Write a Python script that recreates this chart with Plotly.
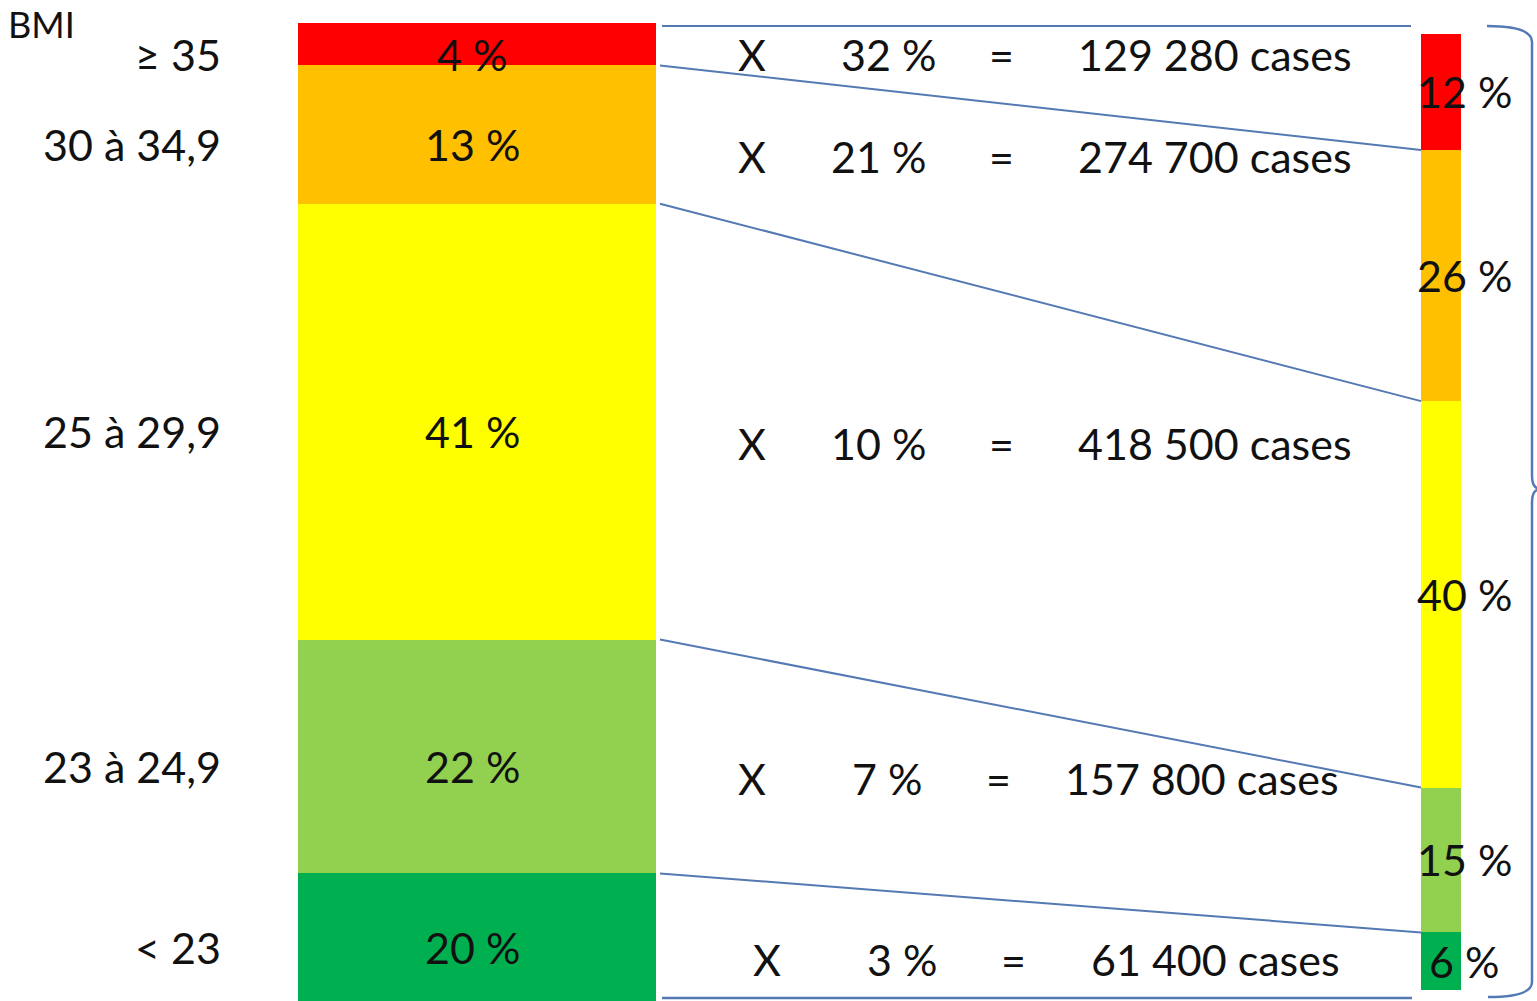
import plotly.graph_objects as go

# ---- data -------------------------------------------------------------
bmi_classes = ["≥ 35", "30 à 34,9", "25 à 29,9", "23 à 24,9", "< 23"]
population_share = [4, 13, 41, 22, 20]          # % of population per BMI class
risk_pct = [32, 21, 10, 7, 3]                   # % risk applied to each class
cases = [129280, 274700, 418500, 157800, 61400]  # resulting number of cases
cases_share = [12, 26, 40, 15, 6]               # % of all cases per BMI class

colors = ["#FF0000", "#FFC000", "#FFFF00", "#92D050", "#00B050"]

# ---- layout constants (page is 1537 x 1001 px) -------------------------
W, H = 1537, 1001
LEFT_X0, LEFT_X1 = 298, 656
RIGHT_X0, RIGHT_X1 = 1421, 1461
LEFT_RANGE = [92.0, -2.16]     # left bar axis (%), reversed: 0 at top
RIGHT_RANGE = [100.1, -3.52]   # right bar axis (%), reversed
LINE_COLOR = "#5479B3"
FONT = "Lato"
TEXT_COLOR = "#111111"
FS = 43


def cum_starts(vals):
    out, s = [], 0
    for v in vals:
        out.append(s)
        s += v
    return out


def to_paper(v, rng):
    return (v - rng[0]) / (rng[1] - rng[0])


def visible_center(a, b, rng):
    lo, hi = max(a, rng[1]), min(b, rng[0])
    return (lo + hi) / 2


left_base = cum_starts(population_share)
right_base = cum_starts(cases_share)

fig = go.Figure()

fig.add_trace(go.Bar(
    x=[(LEFT_X0 + LEFT_X1) / 2] * len(population_share),
    y=population_share, base=left_base, width=LEFT_X1 - LEFT_X0,
    marker=dict(color=colors, line=dict(width=0)),
    yaxis="y", hoverinfo="skip", showlegend=False,
))
fig.add_trace(go.Bar(
    x=[(RIGHT_X0 + RIGHT_X1) / 2] * len(cases_share),
    y=cases_share, base=right_base, width=RIGHT_X1 - RIGHT_X0,
    marker=dict(color=colors, line=dict(width=0)),
    yaxis="y2", hoverinfo="skip", showlegend=False,
))

shapes = []
# connectors between matching class boundaries of the two bars
for i in range(1, len(population_share)):
    yl = to_paper(left_base[i], LEFT_RANGE)
    yr = to_paper(right_base[i], RIGHT_RANGE)
    shapes.append(dict(type="line", xref="x", yref="paper",
                       x0=LEFT_X1 + 4, y0=yl, x1=RIGHT_X0, y1=yr,
                       line=dict(color=LINE_COLOR, width=2)))

# top and bottom rules plus the curly braces (pixel axis y3)
shapes.append(dict(type="line", xref="x", yref="y3", x0=662, y0=26, x1=1411, y1=26,
                   line=dict(color=LINE_COLOR, width=2)))
shapes.append(dict(type="line", xref="x", yref="y3", x0=662, y0=998, x1=1412, y1=998,
                   line=dict(color=LINE_COLOR, width=2.5)))
shapes.append(dict(type="path", xref="x", yref="y3",
                   path="M 1487 26 Q 1532 26 1532 42 L 1532 476 Q 1532 489 1541 489 "
                        "Q 1532 489 1532 502 L 1532 982 Q 1532 997 1488 997",
                   line=dict(color=LINE_COLOR, width=2.5)))

ann = []


def txt(x, y, s, size=FS, yref="y", xanchor="center", yanchor="middle", yshift=0):
    ann.append(dict(x=x, y=y, xref="x", yref=yref, text=s, showarrow=False,
                    xanchor=xanchor, yanchor=yanchor, yshift=yshift, borderpad=0,
                    font=dict(family=FONT, size=size, color=TEXT_COLOR)))


ann_y = []
for i, v in enumerate(population_share):
    ann_y.append(visible_center(left_base[i], left_base[i] + v, LEFT_RANGE))

# row columns for "X  pct  =  cases"
X_COL = [752, 752, 752, 752, 767]
PCT_COL = [888, 878, 878, 887, 902]
EQ_COL = [1001, 1001, 1001, 998, 1013]
CASES_COL = [1215, 1215, 1215, 1202, 1215]
ROW_SHIFT = [-10, -22, -22, -22, -22]

for i, lab in enumerate(bmi_classes):
    y = ann_y[i]
    txt(222, y, lab, xanchor="right", yshift=-10)
    txt((LEFT_X0 + LEFT_X1) / 2 - 5, y, f"{population_share[i]} %", yshift=-10)
    txt(X_COL[i], y, "X", yshift=ROW_SHIFT[i])
    txt(PCT_COL[i], y, f"{risk_pct[i]} %", yshift=ROW_SHIFT[i])
    txt(EQ_COL[i], y, "=", yshift=ROW_SHIFT[i])
    txt(CASES_COL[i], y, f"{cases[i]:,}".replace(",", " ") + " cases", yshift=ROW_SHIFT[i])

for i, v in enumerate(cases_share):
    yc = visible_center(right_base[i], right_base[i] + v, RIGHT_RANGE)
    txt(1464, yc, f"{v} %", yref="y2")

txt(7, 1, "BMI", size=36, yref="y3", xanchor="left", yanchor="top")

fig.update_layout(
    width=W, height=H,
    margin=dict(l=0, r=0, t=0, b=0),
    paper_bgcolor="white", plot_bgcolor="white",
    barmode="overlay", bargap=0,
    xaxis=dict(range=[0, W], visible=False, fixedrange=True),
    yaxis=dict(range=LEFT_RANGE, visible=False, fixedrange=True),
    yaxis2=dict(range=RIGHT_RANGE, visible=False, overlaying="y", fixedrange=True),
    yaxis3=dict(range=[H, 0], visible=False, overlaying="y", fixedrange=True),
    shapes=shapes, annotations=ann,
)

fig.write_html("out.html", config={"displayModeBar": False})
